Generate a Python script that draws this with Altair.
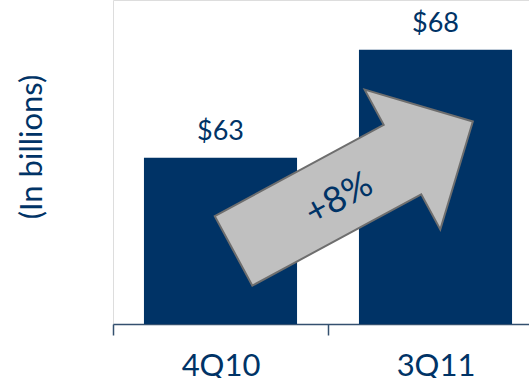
import altair as alt
import pandas as pd

# Data
periods = ["4Q10", "3Q11"]
values = [63, 68]
value_labels = ["$63", "$68"]
change_label = ["+8%"]
unit_title = ["(In billions)"]
y_base = 55.3

NAVY = "#003366"
FONT = "Lato"

df = pd.DataFrame({"period": periods, "value": values, "label": value_labels})
chg = pd.DataFrame({"change": change_label})
ttl = pd.DataFrame({"t": unit_title})

x_axis = alt.Axis(
    title=None,
    labelAngle=0,
    labelFont=FONT,
    labelFontSize=31,
    labelColor=NAVY,
    labelPadding=16,
    domainColor="#34506f",
    domainWidth=1.5,
    tickColor="#34506f",
    tickWidth=1.5,
    tickSize=11,
    tickOffset=-107.5,
    labelOffset=107.5,
    grid=False,
)
x_scale = alt.Scale(range=[0, 430], paddingInner=0.288, paddingOuter=0.144)
y_scale = alt.Scale(domain=[y_base, 70.3], zero=False, nice=False)

bars = alt.Chart(df).mark_bar(color=NAVY).encode(
    x=alt.X("period:N", sort=periods, scale=x_scale, axis=x_axis),
    y=alt.Y("value:Q", scale=y_scale, axis=None),
    y2=alt.datum(y_base),
)

texts = alt.Chart(df).mark_text(
    font=FONT, fontSize=27, color=NAVY, baseline="alphabetic", dy=-18
).encode(
    x=alt.X("period:N", sort=periods, scale=x_scale, axis=x_axis),
    y=alt.Y("value:Q", scale=y_scale, axis=None),
    text="label:N",
)

title_text = alt.Chart(ttl).mark_text(
    font=FONT, fontSize=31, color=NAVY, angle=270, align="center", baseline="middle"
).encode(x=alt.value(-80), y=alt.value(147), text="t:N")

arrow_path = "M -136 -39.5 L 56 -39.5 L 56 -79.5 L 136 0 L 56 79.5 L 56 39.5 L -136 39.5 Z"
arrow = alt.Chart(chg).mark_point(
    shape=arrow_path,
    size=4,
    filled=True,
    fill="#c0c0c0",
    stroke="#6e6e6e",
    strokeWidth=2,
    opacity=1,
    angle=331.6,
).encode(x=alt.value(240.2), y=alt.value(186.2))

arrow_text = alt.Chart(chg).mark_text(
    font=FONT, fontSize=36, color=NAVY, angle=331.6, align="center", baseline="middle"
).encode(x=alt.value(226), y=alt.value(199), text="change:N")

chart = (
    alt.layer(bars, texts, title_text, arrow, arrow_text)
    .properties(
        width=416,
        height=324,
        autosize=alt.AutoSizeParams(type="none"),
        padding={"left": 113, "top": 0, "right": 0, "bottom": 54},
    )
    .configure_view(stroke="white", strokeWidth=0, strokeOpacity=0)
    .configure_axis(grid=False)
    .configure(background="white")
)

chart.save("out.html", embed_options={"renderer": "svg", "actions": False})
